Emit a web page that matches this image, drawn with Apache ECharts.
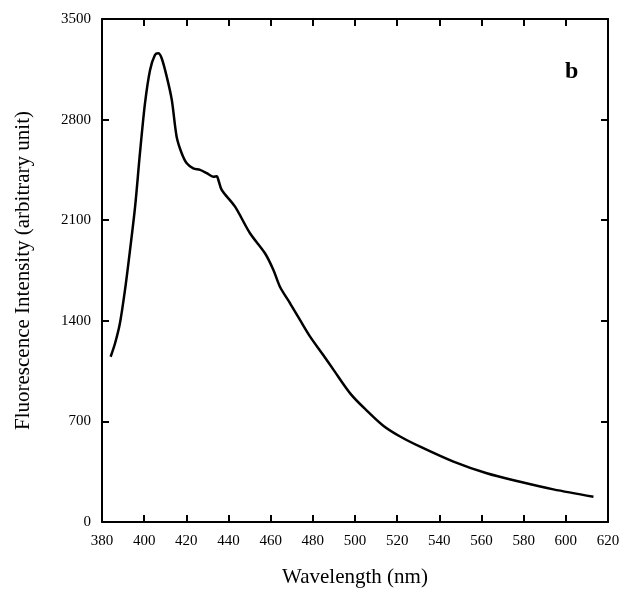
<!DOCTYPE html>
<html>
<head>
<meta charset="utf-8">
<script src="https://cdn.jsdelivr.net/npm/echarts@6/dist/echarts.min.js"></script>
<style>
  html, body { margin: 0; padding: 0; background: #fff; }
  #chart { width: 623px; height: 592px; }
</style>
</head>
<body>
<div id="chart"></div>
<script>
// wavelength (nm) and intensity
const wavelength = [384.1, 386.2, 388.5, 390.9, 393.3, 395.7, 398.0, 400.4, 402.8, 405.1, 406.7, 408.3,
  410.7, 413.1, 415.4, 417.8, 420.2, 423.3, 426.5, 429.7, 432.8, 434.4, 435.2, 436.8, 443.1, 450.2,
  457.3, 461.3, 464.4, 469.2, 473.9, 478.7, 485.0, 490.0, 498.0, 505.6, 513.4, 521.4, 530.9,
  546.7, 562.5, 578.3, 594.1, 613.1];
const intensity = [1150, 1244, 1383, 1614, 1893, 2194, 2566, 2914, 3145, 3250, 3262, 3227,
  3099, 2937, 2681, 2566, 2496, 2461, 2450, 2427, 2403, 2405, 2380, 2310, 2194, 2009,
  1870, 1754, 1637, 1522, 1406, 1290, 1160, 1055, 890, 775, 670, 595, 524,
  420, 339, 280, 227, 176];

const xMin = 380, xMax = 620, xStep = 20;
const yMin = 0, yMax = 3500, yStep = 700;

const serif = '"Liberation Serif", "DejaVu Serif", serif';
const axisLine = { show: true, onZero: false, lineStyle: { color: '#000', width: 2 } };
const tick = { show: true, inside: true, length: 7, lineStyle: { color: '#000', width: 2 } };

const chart = echarts.init(document.getElementById('chart'));
chart.setOption({
  animation: false,
  backgroundColor: '#fff',
  title: {
    text: 'b',
    left: 560,
    top: 55,
    textStyle: { fontFamily: serif, fontWeight: 'bold', fontSize: 24, color: '#000' },
  },
  grid: { left: 102, right: 15, top: 19, bottom: 70, outerBoundsMode: 'none', containLabel: false },
  xAxis: [{
    type: 'value',
    min: xMin, max: xMax, interval: xStep,
    name: 'Wavelength (nm)',
    nameLocation: 'middle',
    nameGap: 45,
    nameTextStyle: { fontFamily: serif, fontSize: 21, color: '#000' },
    axisLine, axisTick: tick,
    axisLabel: { fontFamily: serif, fontSize: 15, color: '#000', margin: 12 },
    splitLine: { show: false },
  }, {
    type: 'value', position: 'top',
    min: xMin, max: xMax, interval: xStep,
    axisLine, axisTick: tick,
    axisLabel: { show: false }, splitLine: { show: false },
  }],
  yAxis: [{
    type: 'value',
    min: yMin, max: yMax, interval: yStep,
    name: 'Fluorescence Intensity (arbitrary unit)',
    nameLocation: 'middle',
    nameGap: 68,
    nameTextStyle: { fontFamily: serif, fontSize: 21, color: '#000' },
    axisLine, axisTick: tick,
    axisLabel: { fontFamily: serif, fontSize: 15, color: '#000', margin: 11, formatter: (v) => String(v) },
    splitLine: { show: false },
  }, {
    type: 'value', position: 'right',
    min: yMin, max: yMax, interval: yStep,
    axisLine, axisTick: tick,
    axisLabel: { show: false }, splitLine: { show: false },
  }],
  series: [{
    type: 'line',
    data: wavelength.map((w, i) => [w, intensity[i]]),
    showSymbol: false,
    smooth: 0.3,
    lineStyle: { color: '#000', width: 2.5 },
  }],
});
</script>
</body>
</html>
